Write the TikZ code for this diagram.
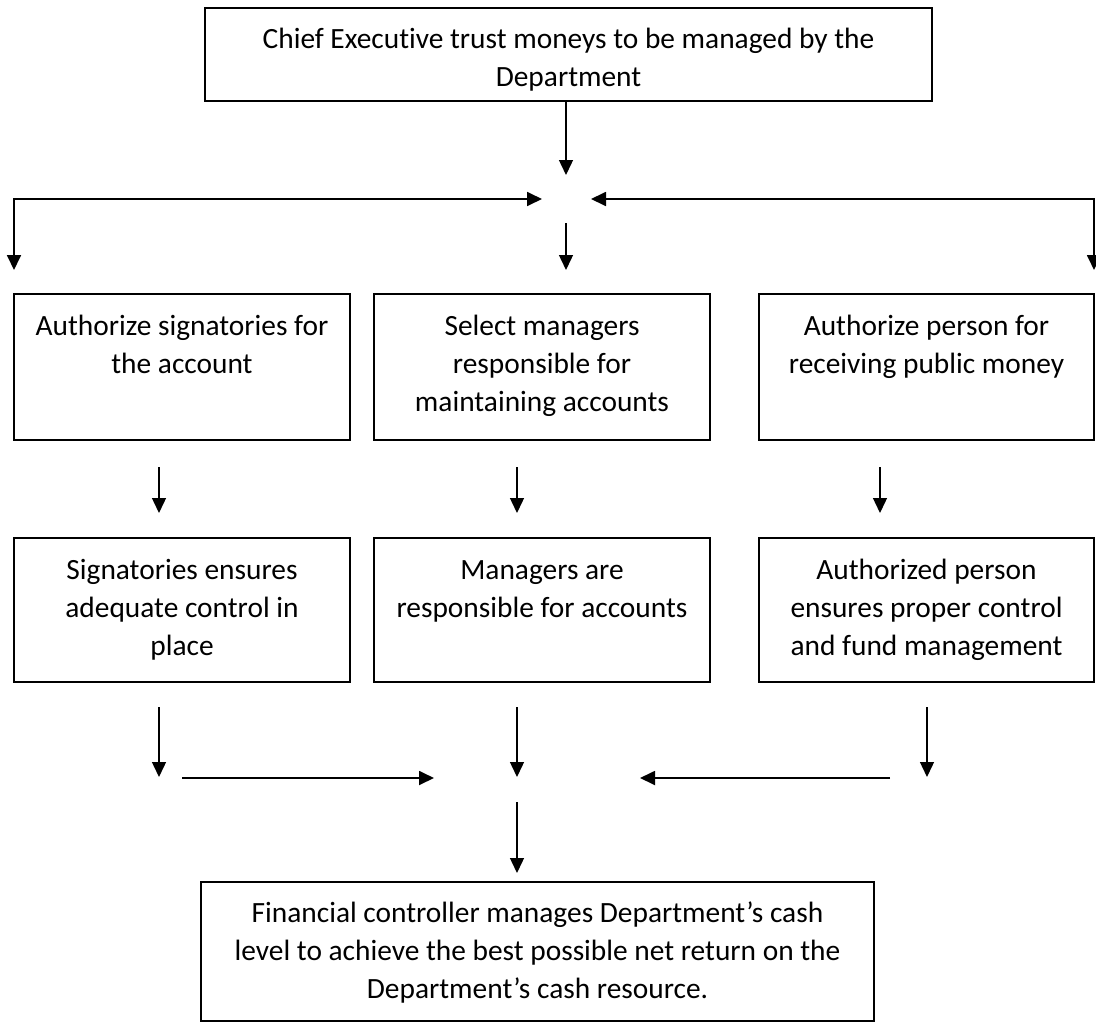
\documentclass[tikz,border=0pt]{standalone}
\usepackage{fontspec}
\setmainfont[Ligatures=NoCommon]{Carlito}
\usetikzlibrary{arrows.meta}
\begin{document}
\begin{tikzpicture}[x=1bp,y=-1bp,
  box/.style={draw, line width=1.4bp, inner sep=0pt, outer sep=0pt},
  txt/.style={anchor=north, inner sep=0pt, align=center, font=\fontsize{29.5}{38.5}\selectfont},
  arr/.style={line width=1.4bp, -{Triangle[length=15bp,width=14bp]}},
  harr/.style={line width=1.8bp, -{Triangle[length=15bp,width=14bp]}},
  darr/.style={line width=1.8bp, {Triangle[length=15bp,width=14bp]}-{Triangle[length=15bp,width=14bp]}}]
\useasboundingbox (0,0) rectangle (1096,1024);
% boxes
\node[box, minimum width=727bp, minimum height=93bp] (top) at (568.5,54.5) {};
\node[box, minimum width=336bp, minimum height=146bp] (b1) at (182,367) {};
\node[box, minimum width=336bp, minimum height=146bp] (b2) at (542,367) {};
\node[box, minimum width=335bp, minimum height=146bp] (b3) at (926.5,367) {};
\node[box, minimum width=336bp, minimum height=144bp] (c1) at (182,610) {};
\node[box, minimum width=336bp, minimum height=144bp] (c2) at (542,610) {};
\node[box, minimum width=335bp, minimum height=144bp] (c3) at (926.5,610) {};
\node[box, minimum width=673bp, minimum height=139bp] (bot) at (537.5,951.5) {};
% texts
\node[txt] (ttop) at ([yshift=-13bp]top.north) {\strut Chief Executive trust moneys to be managed by the\\Department};
\node[txt] (tb1) at ([yshift=-14bp]b1.north) {\strut Authorize signatories for\\the account};
\node[txt] (tb2) at ([yshift=-14bp]b2.north) {\strut Select managers\\responsible for\\maintaining accounts};
\node[txt] (tb3) at ([yshift=-14bp]b3.north) {\strut Authorize person for\\receiving public money};
\node[txt] (tc1) at ([yshift=-14bp]c1.north) {\strut Signatories ensures\\adequate control in\\place};
\node[txt] (tc2) at ([yshift=-14bp]c2.north) {\strut Managers are\\responsible for accounts};
\node[txt] (tc3) at ([yshift=-14bp]c3.north) {\strut Authorized person\\ensures proper control\\and fund management};
\node[txt] (tbot) at ([yshift=-13bp]bot.north) {\strut Financial controller manages Department’s cash\\level to achieve the best possible net return on the\\Department’s cash resource.};
% connector points
\coordinate (a0s) at (566,102);  \coordinate (a0e) at (566,175);
\coordinate (hl) at (14,199);    \coordinate (hlt) at (542,199); \coordinate (hld) at (14,270);
\coordinate (hr) at (1094,199);  \coordinate (hrt) at (591,199); \coordinate (hrd) at (1094,270);
\coordinate (ms) at (566,223);   \coordinate (me) at (566,270);
\coordinate (r1s) at (159,467);  \coordinate (r1e) at (159,513);
\coordinate (r2s) at (517,467);  \coordinate (r2e) at (517,513);
\coordinate (r3s) at (880,467);  \coordinate (r3e) at (880,513);
\coordinate (s1s) at (159,707);  \coordinate (s1e) at (159,777);
\coordinate (s2s) at (517,707);  \coordinate (s2e) at (517,777);
\coordinate (s3s) at (927,707);  \coordinate (s3e) at (927,777);
\coordinate (ls) at (182,778);   \coordinate (le) at (434,778);
\coordinate (rs) at (890,778);   \coordinate (re) at (640,778);
\coordinate (fs) at (517,802);   \coordinate (fe) at (517,873);
% connectors
\draw[arr] (a0s) -- (a0e);
\draw[darr] (hlt) -- (hl) -- (hld);
\draw[darr] (hrt) -- (hr) -- (hrd);
\draw[arr] (ms) -- (me);
\draw[arr] (r1s) -- (r1e);
\draw[arr] (r2s) -- (r2e);
\draw[arr] (r3s) -- (r3e);
\draw[arr] (s1s) -- (s1e);
\draw[arr] (s2s) -- (s2e);
\draw[arr] (s3s) -- (s3e);
\draw[harr] (ls) -- (le);
\draw[harr] (rs) -- (re);
\draw[arr] (fs) -- (fe);
\end{tikzpicture}
\end{document}
